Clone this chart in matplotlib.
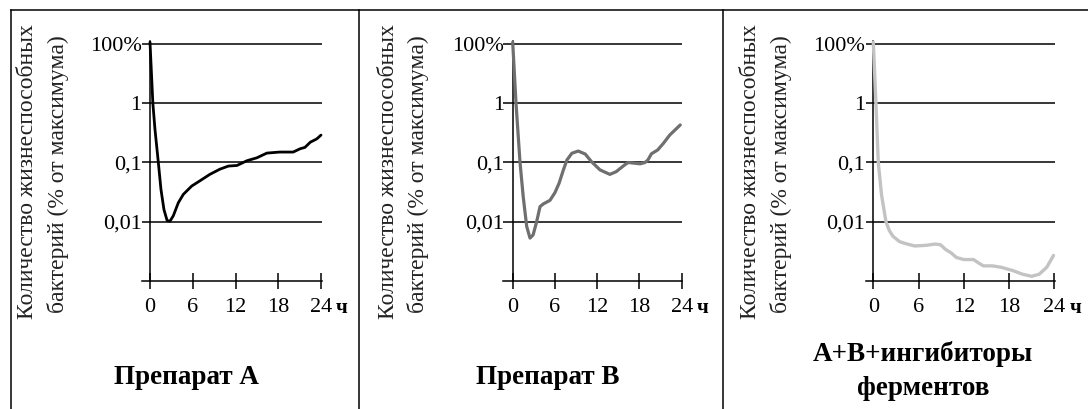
import numpy as np
import matplotlib
matplotlib.use("Agg")
import matplotlib.pyplot as plt
from matplotlib.lines import Line2D
from matplotlib.ticker import NullLocator

plt.rcParams['font.family'] = ['Liberation Serif', 'DejaVu Serif']

W, H = 1088, 409

# data: hours vs % of maximum
hours_a = [0, 0.4, 0.7, 1.17, 1.54, 1.96, 2.4, 2.8, 3.27, 3.98, 4.68, 5.85, 7.0, 8.4,
           9.8, 11.0, 12.2, 13.6, 15.0, 16.4, 18.2, 20.1, 21.05, 21.75, 22.5, 23.4, 24.0]
pct_a = [115, 1.0, 0.36, 0.1, 0.035, 0.016, 0.0105, 0.0102, 0.0126, 0.021, 0.029, 0.040,
         0.049, 0.063, 0.077, 0.087, 0.089, 0.107, 0.12, 0.144, 0.15, 0.15, 0.17, 0.18,
         0.22, 0.25, 0.29]

hours_b = [0, 0.47, 1.04, 1.5, 1.99, 2.46, 2.9, 3.4, 3.88, 4.35, 5.3, 6.0, 6.6, 7.2, 7.7,
           8.4, 9.3, 10.3, 11.2, 12.4, 13.8, 14.7, 15.9, 16.4, 18.1, 18.8, 19.2, 19.7,
           20.6, 21.4, 22.3, 23.8]
pct_b = [115, 1.0, 0.1, 0.026, 0.0083, 0.0053, 0.006, 0.01, 0.018, 0.020, 0.023, 0.031,
         0.045, 0.075, 0.11, 0.143, 0.156, 0.139, 0.103, 0.075, 0.063, 0.07, 0.091, 0.1,
         0.095, 0.1, 0.11, 0.14, 0.163, 0.21, 0.29, 0.43]

hours_c = [0, 0.35, 0.66, 1.1, 1.68, 2.1, 2.6, 3.5, 4.5, 5.5, 7.0, 8.2, 8.9, 9.6, 10.3,
           11.0, 12.0, 13.3, 14.0, 14.6, 15.8, 17.0, 18.5, 19.8, 21.0, 22.0, 23.0, 23.9]
pct_c = [115, 1.0, 0.1, 0.028, 0.01, 0.0072, 0.0057, 0.0046, 0.0042, 0.0039, 0.004,
         0.0042, 0.0041, 0.0034, 0.003, 0.0025, 0.0023, 0.0023, 0.002, 0.0018, 0.0018,
         0.0017, 0.0015, 0.0013, 0.0012, 0.0013, 0.0017, 0.0027]

x_ticks = [0, 6, 12, 18, 24]
y_ticks = [0.01, 0.1, 1, 100]
y_labels = ['0,01', '0,1', '1', '100%']
ylabel_1 = 'Количество жизнеспособных'
ylabel_2 = 'бактерий (% от максимума)'
titles = ['Препарат А', 'Препарат В', 'А+В+ингибиторы\nферментов']


# axis drawn with 100% one step above 1 (schematic scale)
def fwd(v):
    lv = np.log10(np.clip(np.asarray(v, float), 1e-12, None))
    return np.where(lv > 0, lv / 2, lv)


def inv(u):
    u = np.asarray(u, float)
    return np.where(u > 0, 10 ** (2 * u), 10 ** u)


fig = plt.figure(figsize=(W / 100, H / 100), dpi=100)


# table frame
def fline(x1, y1, x2, y2):
    fig.add_artist(Line2D([x1 / W, x2 / W], [1 - y1 / H, 1 - y2 / H],
                          transform=fig.transFigure, color='black', lw=1.1))


fline(11, 10, W, 10)
fline(11, 10, 11, H)
fline(359, 10, 359, H)
fline(723, 10, 723, H)

panels = [
    dict(x=hours_a, y=pct_a, color='black', lw=2.0, x0=150, ppx=7.125, xmin=-1.16, off=0,
         title_x=187, title_y=377),
    dict(x=hours_b, y=pct_b, color='#6f6f6f', lw=2.3, x0=512.7, ppx=7.04, xmin=-1.4, off=360,
         title_x=548, title_y=377),
    dict(x=hours_c, y=pct_c, color='#c3c3c3', lw=2.4, x0=873.3, ppx=7.54, xmin=-0.97, off=723,
         title_x=923, title_y=371),
]

top_px, bot_px = 40.6, 281
xmax = 24.08
for p, t in zip(panels, titles):
    left = p['x0'] + p['xmin'] * p['ppx']
    width = (xmax - p['xmin']) * p['ppx']
    ax = fig.add_axes([left / W, 1 - bot_px / H, width / W, (bot_px - top_px) / H])
    ax.set_yscale('function', functions=(fwd, inv))
    ax.set_xlim(p['xmin'], xmax)
    ax.set_ylim(0.001, 130)
    ax.plot(p['x'], p['y'], color=p['color'], lw=p['lw'], solid_capstyle='round',
            solid_joinstyle='round', clip_on=False, zorder=3)
    for s in ['top', 'right']:
        ax.spines[s].set_visible(False)
    ax.spines['left'].set_position(('data', 0))
    ax.spines['left'].set_linewidth(1.1)
    ax.spines['bottom'].set_linewidth(1.1)
    ax.set_yticks(y_ticks)
    ax.set_yticklabels(y_labels)
    ax.yaxis.set_minor_locator(NullLocator())
    ax.set_xticks(x_ticks)
    ax.tick_params(axis='y', length=0, pad=6, labelsize=16)
    ax.tick_params(axis='x', direction='inout', length=12, width=1.1, pad=6, labelsize=16)
    ax.grid(axis='y', color='black', lw=1.1)
    ax.set_axisbelow(True)
    ax.patch.set_visible(False)

    # two-line y label, hour unit and panel caption
    fig.text((p['off'] + 28) / W, 1 - 172 / H, ylabel_1,
             rotation=90, ha='center', va='center', fontsize=17, color='#222222')
    fig.text((p['off'] + 58) / W, 1 - 174 / H, ylabel_2,
             rotation=90, ha='center', va='center', fontsize=17, color='#222222')
    fig.text((p['x0'] + 24 * p['ppx'] + 21) / W, 1 - 308 / H, 'ч', ha='center', va='center',
             fontsize=15, fontweight='bold')
    fig.text(p['title_x'] / W, 1 - p['title_y'] / H, t, ha='center', va='center',
             fontsize=19.5, fontweight='bold', linespacing=1.5)

fig.savefig('out.png', dpi=100)
